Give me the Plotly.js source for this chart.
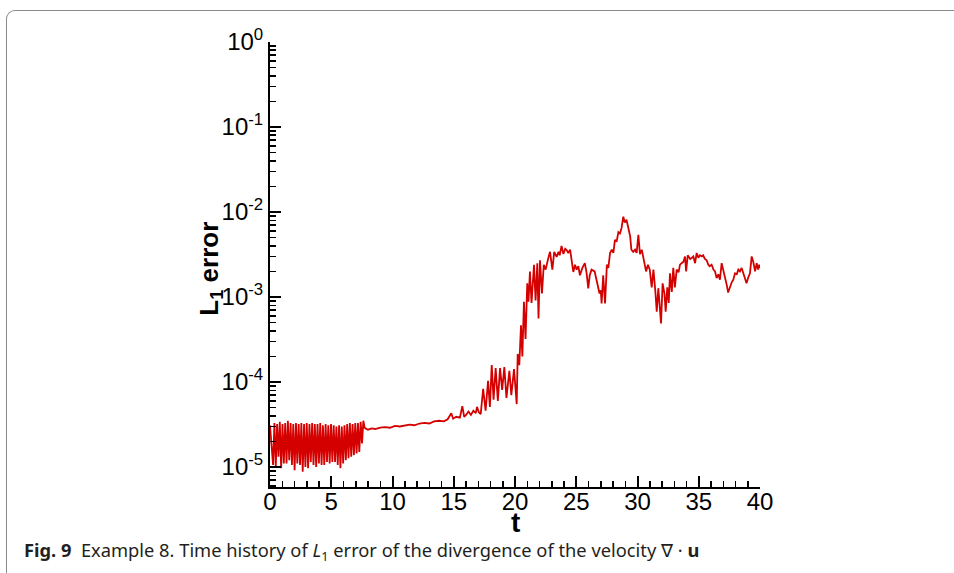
<!DOCTYPE html>
<html>
<head>
<meta charset="utf-8">
<script src="https://cdn.plot.ly/plotly-3.0.1.min.js"></script>
<style>
  html, body { margin: 0; padding: 0; background: #ffffff; }
  body { width: 954px; height: 573px; position: relative; overflow: hidden; }
  #frame {
    position: absolute; left: 6px; top: 10px; width: 1200px; height: 900px;
    border-left: 1.5px solid #8a8a8a; border-top: 1.5px solid #8a8a8a;
    border-top-left-radius: 9px; pointer-events: none;
  }
  #chart { position: absolute; left: 0; top: 0; width: 954px; height: 573px; }
</style>
</head>
<body>
<div id="frame"></div>
<div id="chart"></div>
<script>
// Start-up phase: strong oscillation of the divergence error
const tStart = [0.00, 0.25, 0.36, 0.47, 0.58, 0.69, 0.80, 0.91, 1.02, 1.13, 1.24, 1.35, 1.46, 1.57,
  1.68, 1.79, 1.90, 2.01, 2.12, 2.23, 2.34, 2.45, 2.56, 2.67, 2.78, 2.89, 3.00, 3.11, 3.22, 3.33,
  3.44, 3.55, 3.66, 3.77, 3.88, 3.99, 4.10, 4.21, 4.32, 4.43, 4.54, 4.65, 4.76, 4.87, 4.98, 5.09,
  5.20, 5.31, 5.42, 5.53, 5.64, 5.75, 5.86, 5.97, 6.08, 6.19, 6.30, 6.41, 6.52, 6.63, 6.74, 6.85,
  6.96, 7.07, 7.18, 7.29, 7.40, 7.51, 7.62, 7.72];
const errStart = [3.1e-5, 1.06e-5, 3.3e-5, 1.0e-5, 3.2e-5, 1.32e-5, 3.4e-5, 0.97e-5, 3.2e-5, 1.1e-5,
  3.3e-5, 1.1e-5, 3.5e-5, 1.2e-5, 3.3e-5, 1.06e-5, 3.2e-5, 0.92e-5, 3.3e-5, 1.1e-5, 3.2e-5, 1.06e-5,
  3.3e-5, 0.88e-5, 3.2e-5, 1.0e-5, 3.3e-5, 0.97e-5, 3.2e-5, 1.15e-5, 3.3e-5, 1.06e-5, 3.2e-5, 1.0e-5,
  3.2e-5, 1.1e-5, 3.3e-5, 1.06e-5, 3.1e-5, 1.06e-5, 3.2e-5, 1.15e-5, 3.1e-5, 1.1e-5, 3.2e-5, 1.15e-5,
  3.1e-5, 1.15e-5, 3.0e-5, 1.06e-5, 3.1e-5, 0.97e-5, 3.0e-5, 1.1e-5, 3.1e-5, 1.2e-5, 3.2e-5, 1.27e-5,
  3.3e-5, 1.32e-5, 3.2e-5, 1.38e-5, 3.3e-5, 1.44e-5, 3.3e-5, 1.5e-5, 3.4e-5, 1.9e-5, 3.5e-5, 2.9e-5];

// Quiet phase: slow growth with small fluctuations
const tGrowth = [7.8, 8.0, 8.3, 8.6, 9.0, 9.4, 9.8, 10.2, 10.6, 11.0, 11.4, 11.8, 12.2, 12.6, 13.0,
  13.4, 13.8, 14.2, 14.5, 14.8, 14.95, 15.2, 15.5, 15.7, 15.85, 16.0, 16.2, 16.4, 16.6, 16.8, 16.9,
  17.05, 17.2];
const errGrowth = [2.85e-5, 2.75e-5, 2.85e-5, 2.8e-5, 2.9e-5, 2.95e-5, 2.9e-5, 3.05e-5, 3.0e-5,
  3.1e-5, 3.15e-5, 3.1e-5, 3.25e-5, 3.3e-5, 3.25e-5, 3.45e-5, 3.5e-5, 3.45e-5, 3.65e-5, 4.3e-5,
  3.7e-5, 3.9e-5, 3.8e-5, 5.2e-5, 3.9e-5, 4.1e-5, 4.5e-5, 4.1e-5, 4.6e-5, 4.3e-5, 5.1e-5, 4.4e-5,
  4.2e-5];

// Transition and saturated phase
const tLate = [17.4, 17.6, 17.8, 17.95, 18.1, 18.25, 18.42, 18.6, 18.78, 18.95, 19.13, 19.3, 19.54,
  19.7, 19.92, 20.14, 20.22, 20.35, 20.49, 20.6, 20.73, 20.86, 21.0, 21.1, 21.22, 21.35, 21.55, 21.68,
  21.82, 21.92, 22.04, 22.2, 22.35, 22.5, 22.7, 22.86, 23.05, 23.2, 23.4, 23.55, 23.65, 23.8, 23.95,
  24.1, 24.2, 24.35, 24.5, 24.6, 24.76, 24.9, 25.03, 25.17, 25.3, 25.5, 25.7, 25.85, 25.98, 26.1,
  26.25, 26.5, 26.7, 26.9, 27.0, 27.07, 27.2, 27.35, 27.5, 27.62, 27.76, 27.9, 28.03, 28.16, 28.3,
  28.44, 28.57, 28.7, 28.84, 28.97, 29.1, 29.25, 29.4, 29.5, 29.65, 29.8, 29.93, 30.07, 30.2, 30.35,
  30.48, 30.7, 30.85, 31.0, 31.16, 31.3, 31.45, 31.57, 31.7, 31.85, 31.92, 32.05, 32.2, 32.3, 32.43,
  32.55, 32.65, 32.8, 32.92, 33.05, 33.2, 33.35, 33.47, 33.6, 33.75, 33.88, 33.97, 34.1, 34.3, 34.45,
  34.56, 34.7, 34.83, 34.97, 35.1, 35.25, 35.36, 35.5, 35.65, 35.78, 35.9, 36.05, 36.2, 36.33, 36.46,
  36.6, 36.73, 36.87, 37.0, 37.14, 37.28, 37.4, 37.55, 37.7, 37.82, 37.96, 38.1, 38.23, 38.36, 38.5,
  38.64, 38.77, 38.9, 39.04, 39.18, 39.32, 39.45, 39.6, 39.73, 39.85, 39.94, 40.0];
const errLate = [8.3e-5, 4.6e-5, 1.03e-4, 5.1e-5, 1.58e-4, 6.2e-5, 1.46e-4, 6.0e-5, 1.46e-4, 8.1e-5,
  1.5e-4, 6.5e-5, 1.35e-4, 7.0e-5, 1.42e-4, 5.5e-5, 2.14e-4, 1.58e-4, 4.64e-4, 2.0e-4, 8.8e-4, 3.2e-4,
  1.45e-3, 8.8e-4, 2.0e-3, 8.5e-4, 2.4e-3, 9.1e-4, 2.5e-3, 5.6e-4, 2.7e-3, 1.1e-3, 2.4e-3, 2.1e-3,
  2.8e-3, 3.4e-3, 2.1e-3, 3.4e-3, 2.96e-3, 3.4e-3, 3.1e-3, 4.0e-3, 3.2e-3, 3.7e-3, 3.6e-3, 3.3e-3,
  3.6e-3, 2.8e-3, 1.97e-3, 2.4e-3, 2.1e-3, 2.3e-3, 1.8e-3, 2.2e-3, 2.5e-3, 1.9e-3, 1.26e-3, 1.8e-3,
  2.1e-3, 2.0e-3, 1.45e-3, 1.1e-3, 1.2e-3, 8.4e-4, 1.8e-3, 8.4e-4, 2.4e-3, 2.2e-3, 3.3e-3, 3.6e-3,
  3.3e-3, 4.7e-3, 4.5e-3, 5.8e-3, 5.6e-3, 6.5e-3, 8.8e-3, 7.5e-3, 8.1e-3, 6.6e-3, 5.2e-3, 3.6e-3,
  3.4e-3, 3.6e-3, 3.3e-3, 5.4e-3, 3.2e-3, 3.6e-3, 2.9e-3, 2.0e-3, 2.4e-3, 2.1e-3, 1.3e-3, 2.1e-3,
  1.2e-3, 6.7e-4, 1.27e-3, 7.2e-4, 4.9e-4, 1.45e-3, 1.1e-3, 6.7e-4, 1.3e-3, 8.5e-4, 1.9e-3, 1.15e-3,
  2.2e-3, 1.3e-3, 2.1e-3, 1.95e-3, 2.4e-3, 2.5e-3, 2.6e-3, 3.0e-3, 2.0e-3, 3.1e-3, 2.8e-3, 2.9e-3,
  3.0e-3, 2.5e-3, 3.3e-3, 2.9e-3, 3.1e-3, 3.0e-3, 3.1e-3, 2.8e-3, 2.7e-3, 2.4e-3, 2.3e-3, 2.4e-3,
  2.1e-3, 2.0e-3, 1.67e-3, 1.85e-3, 1.6e-3, 2.5e-3, 2.1e-3, 1.75e-3, 1.4e-3, 1.13e-3, 1.35e-3, 1.5e-3,
  1.6e-3, 1.9e-3, 1.85e-3, 2.1e-3, 2.0e-3, 2.2e-3, 1.9e-3, 1.7e-3, 1.45e-3, 1.7e-3, 1.9e-3, 3.0e-3,
  2.6e-3, 2.0e-3, 2.5e-3, 2.1e-3, 2.4e-3, 2.2e-3];

// Axis ticks
const xTickVals = [0, 5, 10, 15, 20, 25, 30, 35, 40];
const yTickVals = [1e-5, 1e-4, 1e-3, 1e-2, 1e-1, 1];
const yTickText = ['10<sup>-5</sup>', '10<sup>-4</sup>', '10<sup>-3</sup>', '10<sup>-2</sup>',
  '10<sup>-1</sup>', '10<sup>0</sup>'];

// Minor ticks at 2..9 of every decade, drawn on an overlaid unlabeled axis
const yMinorVals = [];
for (let d = -6; d <= -1; d++) {
  for (let k = 2; k <= 9; k++) yMinorVals.push(k * Math.pow(10, d));
}

const time = tStart.concat(tGrowth, tLate);
const l1Error = errStart.concat(errGrowth, errLate);

const sans = 'Liberation Sans, Arial, Helvetica, sans-serif';
const tickFont = { family: sans, size: 24, color: '#000' };
const yRange = [-5.235, 0];

const trace = {
  x: time, y: l1Error, type: 'scatter', mode: 'lines',
  line: { color: '#d40000', width: 1.8 },
  hoverinfo: 'skip'
};
const minorHolder = {
  x: [null], y: [null], yaxis: 'y2', type: 'scatter', mode: 'lines',
  showlegend: false, hoverinfo: 'skip'
};

const layout = {
  width: 954, height: 573,
  margin: { l: 270, r: 194, t: 42, b: 86 },
  paper_bgcolor: 'rgba(0,0,0,0)', plot_bgcolor: 'rgba(0,0,0,0)',
  showlegend: false,
  xaxis: {
    range: [0, 40], tickmode: 'array', tickvals: xTickVals,
    ticks: 'inside', ticklen: 11, tickwidth: 2, tickcolor: '#000',
    showline: true, linewidth: 2, linecolor: '#000', mirror: false,
    showgrid: false, zeroline: false, tickfont: tickFont, ticklabelstandoff: -8,
    minor: { dtick: 1, ticks: 'inside', ticklen: 6, tickwidth: 1.5, tickcolor: '#000', showgrid: false }
  },
  yaxis: {
    type: 'log', range: yRange, tickmode: 'array', tickvals: yTickVals, ticktext: yTickText,
    ticks: 'inside', ticklen: 11, tickwidth: 2, tickcolor: '#000',
    showline: true, linewidth: 2, linecolor: '#000', mirror: false,
    showgrid: false, zeroline: false, tickfont: tickFont
  },
  yaxis2: {
    type: 'log', range: yRange, overlaying: 'y', side: 'left', anchor: 'x',
    tickmode: 'array', tickvals: yMinorVals, showticklabels: false,
    ticks: 'inside', ticklen: 6, tickwidth: 1.5, tickcolor: '#000',
    showline: false, showgrid: false, zeroline: false
  },
  annotations: [
    { text: '<b>L<sub>1</sub> error</b>', xref: 'paper', yref: 'paper', x: -0.121, y: 0.49,
      xanchor: 'center', yanchor: 'middle', textangle: -90, showarrow: false,
      font: { family: sans, size: 26, color: '#000' } },
    { text: '<b>t</b>', xref: 'paper', yref: 'paper', x: 0.502, y: -0.079,
      xanchor: 'center', yanchor: 'middle', showarrow: false,
      font: { family: sans, size: 28, color: '#000' } },
    { text: '<b>Fig. 9</b>  Example 8. Time history of <i>L</i><sub>1</sub> error of the divergence of the velocity \u2207 \u00b7 <b>u</b>',
      xref: 'paper', yref: 'paper', x: -0.506, y: -0.144, xanchor: 'left', yanchor: 'middle',
      showarrow: false, font: { family: 'Noto Sans, sans-serif', size: 18.3, color: '#231f20' } }
  ]
};

Plotly.newPlot('chart', [trace, minorHolder], layout, { staticPlot: true, displayModeBar: false });
</script>
</body>
</html>
